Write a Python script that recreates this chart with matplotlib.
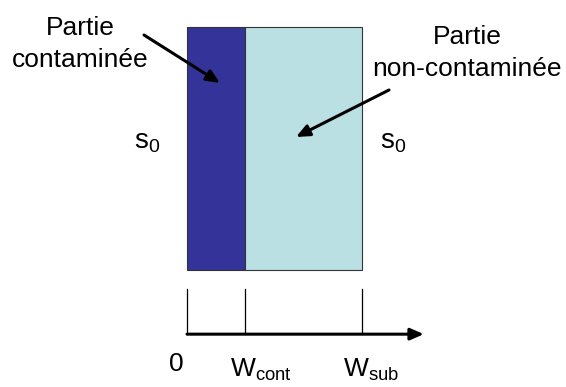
import matplotlib
matplotlib.use('Agg')
import matplotlib.pyplot as plt
from matplotlib.patches import Rectangle

plt.rcParams['font.family'] = ['Liberation Sans', 'DejaVu Sans']
plt.rcParams['mathtext.fontset'] = 'custom'
plt.rcParams['mathtext.rm'] = 'Liberation Sans'
plt.rcParams['mathtext.it'] = 'Liberation Sans'

# Largeurs (unités arbitraires)
positions = [0, 1, 3]
labels_pos = ['0', r'$\mathregular{W_{cont}}$', r'$\mathregular{W_{sub}}$']
hauteur = 4.17
zones = ['Partie\ncontaminée', 'Partie\nnon-contaminée']
couleurs = ['#333399', '#bbe0e3']

# échelle : 58.33 px par unité
px = 58.33
fig = plt.figure(figsize=(5.66, 3.87), dpi=100)
ax = fig.add_axes([0, 0, 1, 1])
ax.set_xlim(-187 / px, (566 - 187) / px)
ax.set_ylim((270 - 387) / px, 270 / px)
ax.axis('off')

# Rectangles
for i in range(2):
    ax.add_patch(Rectangle((positions[i], 0), positions[i + 1] - positions[i], hauteur,
                           facecolor=couleurs[i], edgecolor='#333333', linewidth=0.8))

# Axe horizontal avec flèche
y_axe = -1.10
ax.annotate('', xy=(4.06, y_axe), xytext=(0, y_axe),
            arrowprops=dict(arrowstyle='-|>,head_length=0.8,head_width=0.35',
                            color='black', lw=2.2, shrinkA=0, shrinkB=0))
for p in positions:
    ax.plot([p, p], [-0.33, y_axe], color='black', lw=0.9)

fs = 19
ax.text(-0.18, -1.62, labels_pos[0], fontsize=fs, ha='center', va='center')
ax.text(positions[1] + 0.26, -1.72, labels_pos[1], fontsize=fs, ha='center', va='center')
ax.text(positions[2] + 0.16, -1.72, labels_pos[2], fontsize=fs, ha='center', va='center')

# s0 labels
ax.text(-0.69, 2.2, r'$\mathregular{s_0}$', fontsize=20, ha='center', va='center')
ax.text(3.53, 2.2, r'$\mathregular{s_0}$', fontsize=20, ha='center', va='center')

# Titres des zones
ax.text((80 - 187) / px, (270 - 44) / px, zones[0], fontsize=fs, ha='center', va='center',
        multialignment='center', linespacing=1.45)
ax.text((467 - 187) / px, (270 - 53) / px, zones[1], fontsize=fs, ha='center', va='center',
        multialignment='center', linespacing=1.45)

# Flèches
fl = dict(arrowstyle='-|>,head_length=0.8,head_width=0.35', color='black', lw=2.2,
          shrinkA=0, shrinkB=0)
ax.annotate('', xy=((220 - 187) / px, (270 - 83) / px),
            xytext=((144 - 187) / px, (270 - 35) / px), arrowprops=fl)
ax.annotate('', xy=((296 - 187) / px, (270 - 137) / px),
            xytext=((389 - 187) / px, (270 - 90) / px), arrowprops=fl)

plt.savefig('out.png', dpi=100)
plt.close()
